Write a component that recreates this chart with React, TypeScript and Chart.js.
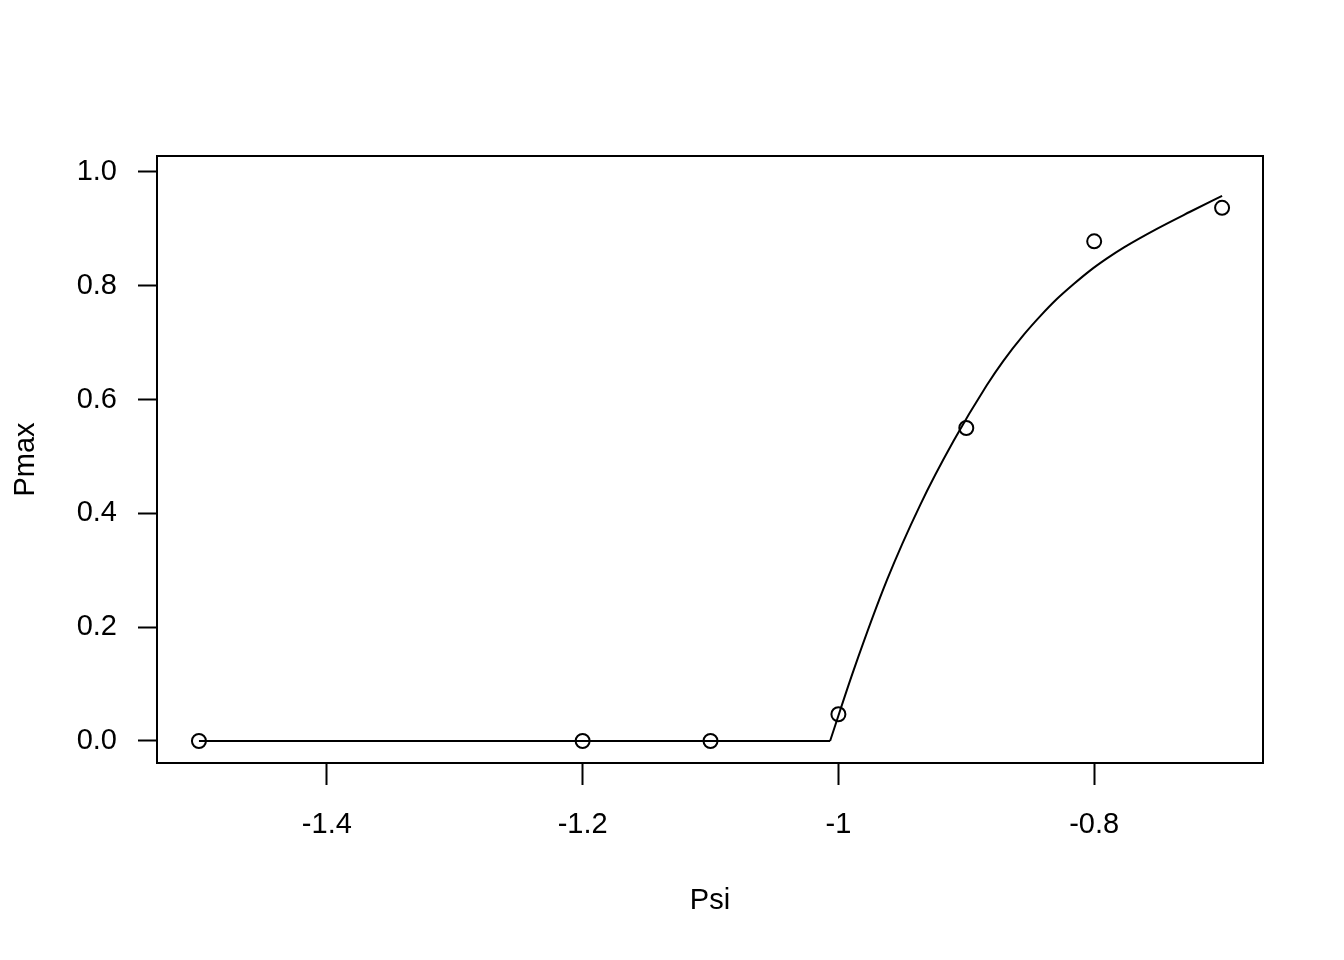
import React, { useEffect, useRef } from "react";
import { Chart, registerables } from "chart.js";

Chart.register(...registerables);

// Observed points
const psiValues = [-1.5, -1.2, -1.1, -1.0, -0.9, -0.8, -0.7];
const pmaxValues = [0, 0, 0, 0.047, 0.55, 0.878, 0.937];

// Fitted curve: flat part, then rising part
const flatPsi = [-1.5, -1.0065];
const flatPmax = [0, 0];
const risePsi = [-1.0065, -0.988, -0.962, -0.936, -0.91, -0.884, -0.871, -0.855, -0.842, -0.829, -0.816, -0.803, -0.79, -0.777, -0.751, -0.725, -0.7];
const risePmax = [0, 0.125, 0.283, 0.415, 0.527, 0.625, 0.668, 0.714, 0.747, 0.777, 0.803, 0.827, 0.848, 0.867, 0.9, 0.93, 0.958];

// Axis ticks
const xTickValues = [-1.4, -1.2, -1.0, -0.8];
const xTickLabels = ["-1.4", "-1.2", "-1", "-0.8"];
const yTickValues = [0, 0.2, 0.4, 0.6, 0.8, 1.0];
const yTickLabels = ["0.0", "0.2", "0.4", "0.6", "0.8", "1.0"];

const FONT = "'Liberation Sans', Arial, Helvetica, sans-serif";
const FS = 29;

const boxPlugin = {
  id: "boxPlugin",
  afterDraw(chart: any) {
    const { ctx, chartArea } = chart;
    ctx.save();
    ctx.strokeStyle = "#000";
    ctx.lineWidth = 2;
    ctx.strokeRect(chartArea.left, chartArea.top, chartArea.right - chartArea.left, chartArea.bottom - chartArea.top);
    ctx.restore();
  },
};

const lineStyle = {
  type: "line",
  borderColor: "#000",
  borderWidth: 2,
  pointRadius: 0,
  cubicInterpolationMode: "monotone",
  fill: false,
};

export default function App() {
  const ref = useRef<HTMLCanvasElement | null>(null);
  useEffect(() => {
    const canvas = ref.current;
    if (!canvas) return;
    const chart = new Chart(canvas, {
      type: "scatter",
      data: {
        datasets: [
          { ...lineStyle, data: flatPsi.map((x, i) => ({ x, y: flatPmax[i] })) } as any,
          { ...lineStyle, data: risePsi.map((x, i) => ({ x, y: risePmax[i] })) } as any,
          {
            type: "scatter",
            data: psiValues.map((x, i) => ({ x, y: pmaxValues[i] })),
            borderColor: "#000",
            backgroundColor: "rgba(0,0,0,0)",
            borderWidth: 2,
            pointRadius: 7,
            pointStyle: "circle",
          } as any,
        ],
      },
      options: {
        responsive: false,
        animation: false,
        events: [],
        layout: { padding: { top: 156, right: 81, left: 0, bottom: 0 } },
        plugins: { legend: { display: false }, tooltip: { enabled: false } },
        scales: {
          x: {
            type: "linear",
            min: -1.5328,
            max: -0.668,
            afterBuildTicks: (s: any) => {
              s.ticks = xTickValues.map((v) => ({ value: v }));
            },
            afterFit: (s: any) => {
              s.height = 197;
              s.paddingLeft = 0;
              s.paddingRight = 0;
            },
            ticks: {
              autoSkip: false,
              maxRotation: 0,
              padding: 23,
              color: "#000",
              font: { family: FONT, size: FS },
              callback: (v: any) => {
                const i = xTickValues.findIndex((t) => Math.abs(t - Number(v)) < 1e-9);
                return i >= 0 ? xTickLabels[i] : "";
              },
            },
            grid: { drawOnChartArea: false, drawTicks: true, tickLength: 22, tickColor: "#000", tickWidth: 2 },
            border: { display: false },
            title: { display: true, text: "Psi", color: "#000", font: { family: FONT, size: FS }, padding: { top: 0, bottom: 42 } },
          },
          y: {
            type: "linear",
            min: -0.0387,
            max: 1.028,
            afterBuildTicks: (s: any) => {
              s.ticks = yTickValues.map((v) => ({ value: v }));
            },
            afterFit: (s: any) => {
              s.width = 157;
              s.paddingTop = 0;
              s.paddingBottom = 0;
            },
            ticks: {
              autoSkip: false,
              padding: 21,
              color: "#000",
              font: { family: FONT, size: FS },
              callback: (v: any) => {
                const i = yTickValues.findIndex((t) => Math.abs(t - Number(v)) < 1e-9);
                return i >= 0 ? yTickLabels[i] : "";
              },
            },
            grid: { drawOnChartArea: false, drawTicks: true, tickLength: 19, tickColor: "#000", tickWidth: 2 },
            border: { display: false },
            title: { display: true, text: "Pmax", color: "#000", font: { family: FONT, size: FS }, padding: { top: 9, bottom: 0 } },
          },
        },
      },
      plugins: [boxPlugin],
    });
    return () => chart.destroy();
  }, []);
  return (
    <div style={{ position: "absolute", left: 0, top: 0, width: 1344, height: 960, background: "#fff" }}>
      <canvas ref={ref} width={1344} height={960} style={{ display: "block" }} />
    </div>
  );
}
